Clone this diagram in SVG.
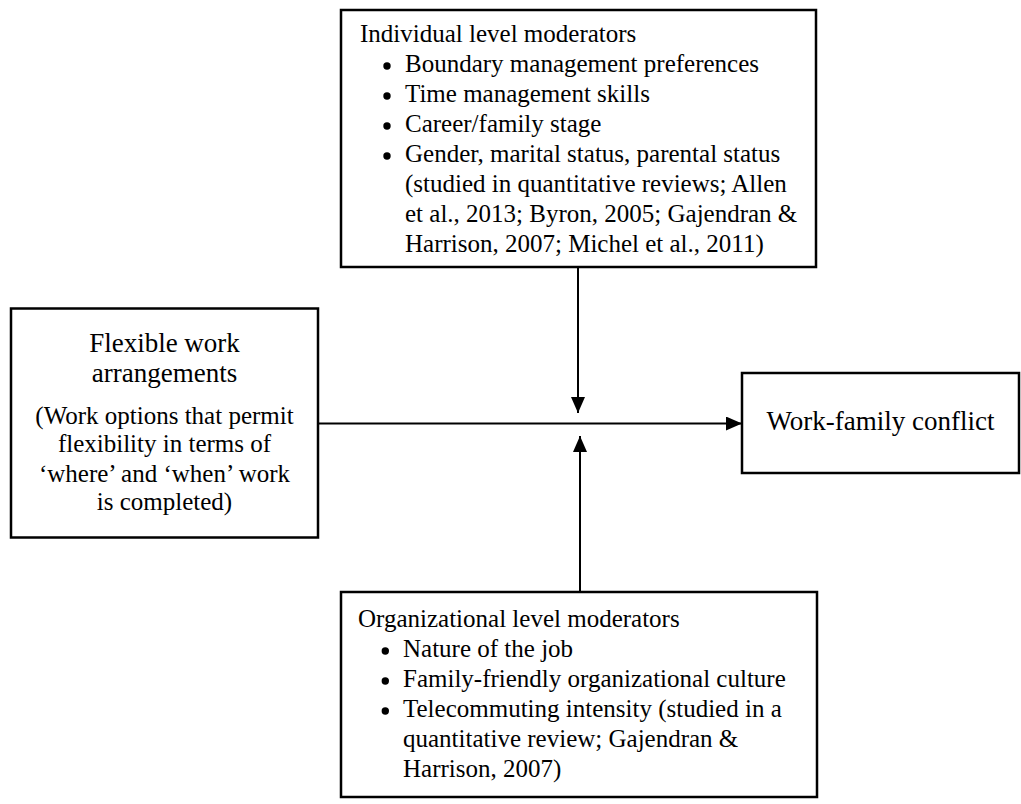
<svg xmlns="http://www.w3.org/2000/svg" width="1021" height="804" viewBox="0 0 1021 804">
<style>
  .box { fill: #ffffff; stroke: #000000; stroke-width: 2.5; }
  .t { font-family: "Liberation Serif", "Times New Roman", serif; font-size: 25px; fill: #000000; }
  .title { font-family: "Liberation Serif", "Times New Roman", serif; font-size: 27px; fill: #000000; }
  .c { text-anchor: middle; }
  .bul { fill: #000000; }
  .conn { stroke: #000000; stroke-width: 2; fill: none; }
</style>
<defs>
  <marker id="arrow" viewBox="0 0 16 14" refX="16" refY="7" markerWidth="16" markerHeight="14" markerUnits="userSpaceOnUse" orient="auto">
    <path d="M0,0 L16,7 L0,14 Z" fill="#000000"/>
  </marker>
</defs>
<rect width="1021" height="804" fill="#ffffff"/>

<g id="connectors">
  <line class="conn" x1="318" y1="423.5" x2="742" y2="423.5" marker-end="url(#arrow)"/>
  <line class="conn" x1="578" y1="267" x2="578" y2="413" marker-end="url(#arrow)"/>
  <line class="conn" x1="580" y1="592" x2="580" y2="436" marker-end="url(#arrow)"/>
</g>

<g id="individual-moderators">
  <rect class="box" x="341" y="10" width="475" height="257"/>
  <text class="t" x="360" y="41.7">Individual level moderators</text>
  <circle class="bul" cx="387" cy="66" r="3.7"/>
  <text class="t" x="405" y="71.7">Boundary management preferences</text>
  <circle class="bul" cx="387" cy="96" r="3.7"/>
  <text class="t" x="405" y="101.7">Time management skills</text>
  <circle class="bul" cx="387" cy="126" r="3.7"/>
  <text class="t" x="405" y="131.7">Career/family stage</text>
  <circle class="bul" cx="387" cy="156" r="3.7"/>
  <text class="t" x="405" y="161.7">Gender, marital status, parental status</text>
  <text class="t" x="405" y="191.7">(studied in quantitative reviews; Allen</text>
  <text class="t" x="405" y="221.7">et al., 2013; Byron, 2005; Gajendran &amp;</text>
  <text class="t" x="405" y="251.7">Harrison, 2007; Michel et al., 2011)</text>
</g>

<g id="flexible-work">
  <rect class="box" x="11" y="308.5" width="307" height="229"/>
  <text class="title c" x="164.5" y="351.7">Flexible work</text>
  <text class="title c" x="164.5" y="381.7">arrangements</text>
  <text class="t c" x="164.5" y="424">(Work options that permit</text>
  <text class="t c" x="164.5" y="452">flexibility in terms of</text>
  <text class="t c" x="164.5" y="481.7">‘where’ and ‘when’ work</text>
  <text class="t c" x="164.5" y="510">is completed)</text>
</g>

<g id="work-family-conflict">
  <rect class="box" x="742" y="373" width="277" height="100"/>
  <text class="title c" x="880.5" y="430">Work-family conflict</text>
</g>

<g id="organizational-moderators">
  <rect class="box" x="341" y="592" width="476" height="205"/>
  <text class="t" x="358" y="626.7">Organizational level moderators</text>
  <circle class="bul" cx="385.3" cy="651" r="3.7"/>
  <text class="t" x="403" y="656.7">Nature of the job</text>
  <circle class="bul" cx="385.3" cy="681" r="3.7"/>
  <text class="t" x="403" y="686.7">Family-friendly organizational culture</text>
  <circle class="bul" cx="385.3" cy="711" r="3.7"/>
  <text class="t" x="403" y="716.7">Telecommuting intensity (studied in a</text>
  <text class="t" x="403" y="746.7">quantitative review; Gajendran &amp;</text>
  <text class="t" x="403" y="776.7">Harrison, 2007)</text>
</g>
</svg>
